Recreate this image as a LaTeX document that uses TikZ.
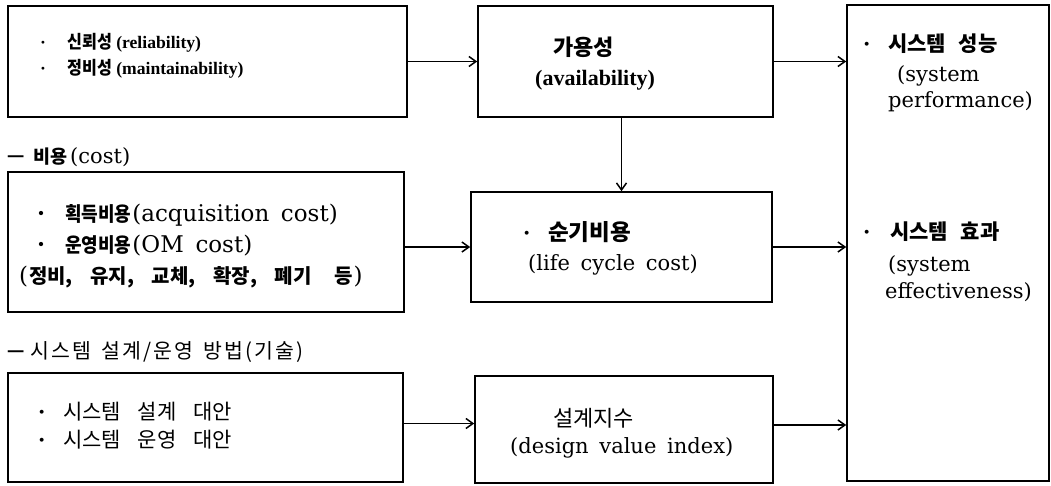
\documentclass[tikz,border=0pt]{standalone}
\usepackage{fontspec}
\setmainfont{DejaVu Serif}[WordSpace=1.6]
\newfontfamily\libs{Liberation Serif}
\newfontfamily\krn{Noto Sans CJK KR}
\newfontfamily\krc{Noto Sans CJK KR}[FakeStretch=0.9]
\newfontfamily\krl{Noto Sans CJK KR}[LetterSpace=10]
\newcommand\fsz[1]{\fontsize{#1}{#1}\selectfont}
\usetikzlibrary{arrows.meta}
\tikzset{
  box/.style={draw, line width=1.6pt, inner sep=0pt},
  lbl/.style={inner sep=0pt, anchor=base west},
  arr/.style={line width=1.5pt, -{Straight Barb[length=7pt,width=10pt,line width=1.5pt]}},
}
\begin{document}
\begin{tikzpicture}[x=1pt,y=-1pt]
\useasboundingbox (0,0) rectangle (1051,485);
% boxes
\node[box, minimum width=399pt, minimum height=111pt] (A) at (207.5,61.5) {};
\node[box, minimum width=295pt, minimum height=111pt] (Av) at (625.5,61.5) {};
\node[box, minimum width=202pt, minimum height=476pt] (R) at (948,243) {};
\node[box, minimum width=396pt, minimum height=140pt] (C) at (206,242) {};
\node[box, minimum width=301pt, minimum height=110pt] (L) at (621.5,247) {};
\node[box, minimum width=395pt, minimum height=109pt] (D) at (205.5,427.5) {};
\node[box, minimum width=298pt, minimum height=107pt] (V) at (624,429.5) {};
% connectors
\draw[arr] (A.east) -- (Av.west);
\draw[arr] (Av.east) -- (Av.east -| R.west);
\draw[arr] (Av.south -| L.north) -- (L.north);
\draw[arr] (C.east |- L.west) -- (L.west);
\draw[arr] (L.east) -- (L.east -| R.west);
\draw[arr] ([yshift=4pt]D.east) coordinate (d1) -- (d1 -| V.west);
\draw[arr] ([yshift=4.5pt]V.east) coordinate (v1) -- (v1 -| R.west);
% box A text
\node[lbl] (a1) at (40,48) {\libs\bfseries\fsz{17.6}\makebox[27pt][l]{·}{\krc\fsz{18}신뢰성} (reliability)};
\node[lbl] (a2) at (40,74) {\libs\bfseries\fsz{17.6}\makebox[27pt][l]{·}{\krc\fsz{18}정비성} (maintainability)};
% availability
\node[lbl] (av1) at (553,55) {\krn\bfseries\fsz{22}가용성};
\node[lbl] (av2) at (535,85) {\libs\bfseries\fsz{22}(availability)};
% cost heading
\node[lbl] (h1) at (5,163) {\fsz{21}\makebox[28pt][l]{\scalebox{3}[1.2]{-}}{\krn\bfseries\fsz{18.5}비용}\hspace{3pt}(cost)};
% cost box
\node[lbl] (c1) at (37,221) {\fsz{23}\makebox[28pt][l]{\textbf{·}}{\krc\bfseries\fsz{20}획득비용}\hspace{1pt}(acquisition cost)};
\node[lbl] (c2) at (37,252) {\fsz{23}\makebox[28pt][l]{\textbf{·}}{\krc\bfseries\fsz{20}운영비용}\hspace{1pt}(OM cost)};
\node[lbl] (c3) at (19,283) {\fsz{23}(\hspace{1pt}{\krn\bfseries\fsz{20}정비,\hspace{13pt} 유지,\hspace{13pt} 교체,\hspace{13pt} 확장,\hspace{13pt} 폐기\hspace{18pt} 등}\hspace{1pt})};
% LCC
\node[lbl] (l1) at (523,240) {\fsz{21}\makebox[25pt][l]{\textbf{·}}{\krn\bfseries\fsz{22.5}순기비용}};
\node[lbl] (l2) at (528,270) {\fsz{21}(life cycle cost)};
% design heading
\node[lbl] (h2) at (5,358) {\fsz{21}\makebox[25pt][l]{\scalebox{3}[1.2]{-}}{\krl\fsz{20.5}시스템} {\krl\fsz{20.5}설계/운영} {\krl\fsz{20.5}방법(기술)}};
% design box
\node[lbl] (e1) at (38,419) {\fsz{21}\makebox[25pt][l]{\textbf{·}}{\krn\fsz{21}시스템}\hspace{6pt} {\krn\fsz{21}설계}\hspace{6pt} {\krn\fsz{21}대안}};
\node[lbl] (e2) at (38,447) {\fsz{21}\makebox[25pt][l]{\textbf{·}}{\krn\fsz{21}시스템}\hspace{6pt} {\krn\fsz{21}운영}\hspace{6pt} {\krn\fsz{21}대안}};
% design value index
\node[lbl] (x1) at (553,426) {\krn\fsz{22}설계지수};
\node[lbl] (x2) at (510,453) {\fsz{21}(design value index)};
% right box
\node[lbl] (r1) at (863,51) {\fsz{21}\makebox[25pt][l]{\textbf{·}}{\krn\bfseries\fsz{21}시스템}\hspace{2pt} {\krn\bfseries\fsz{21}성능}};
\node[lbl] (r2) at (897,81) {\fsz{21}(system};
\node[lbl] (r3) at (888,107) {\fsz{21}performance)};
\node[lbl] (r4) at (863,239) {\fsz{21}\makebox[27pt][l]{\textbf{·}}{\krn\bfseries\fsz{21}시스템}\hspace{2pt} {\krn\bfseries\fsz{21}효과}};
\node[lbl] (r5) at (888,271) {\fsz{21}(system};
\node[lbl] (r6) at (885,298) {\fsz{21}effectiveness)};
\end{tikzpicture}
\end{document}
